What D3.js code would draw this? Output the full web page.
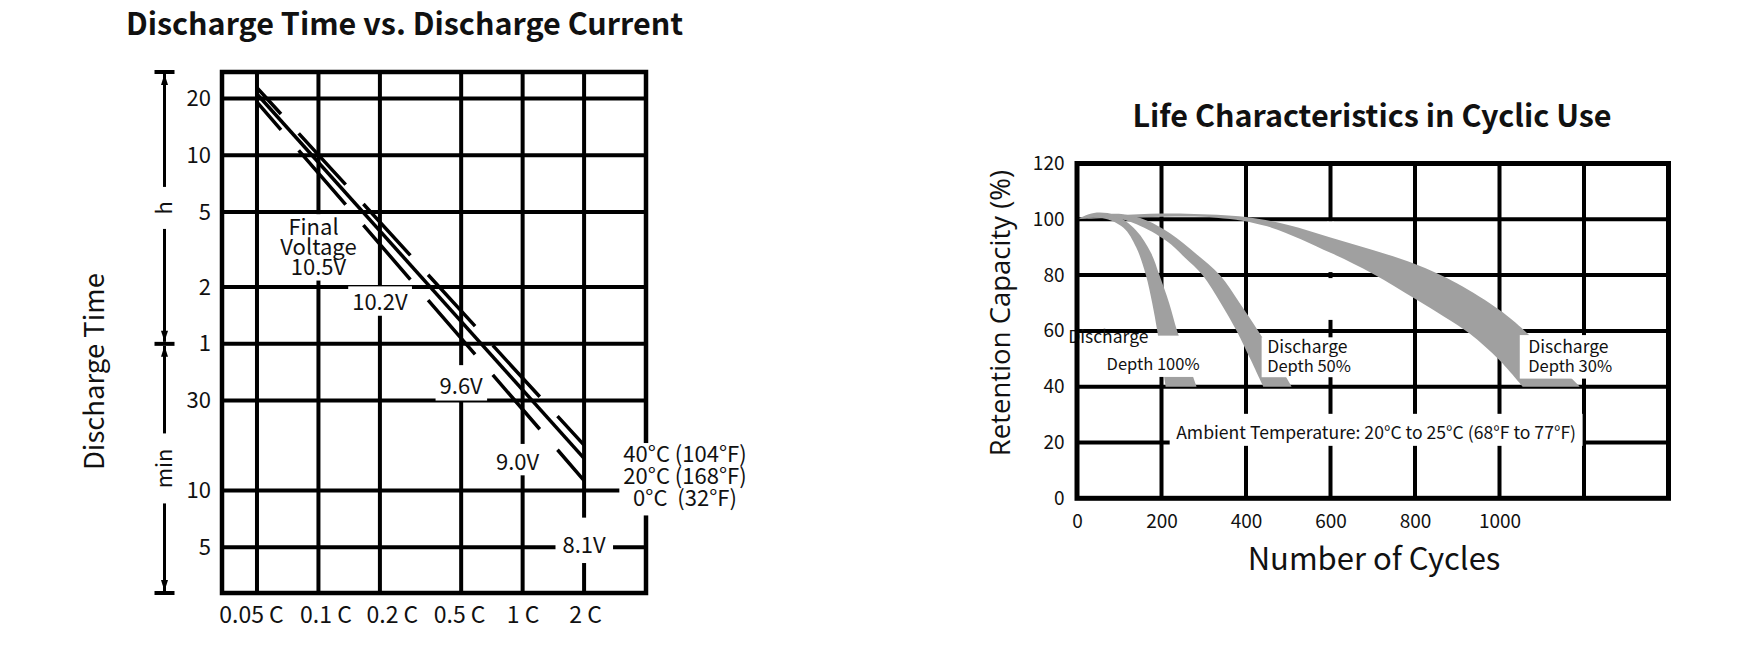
<!DOCTYPE html>
<html lang="en">

<head>
    <meta charset="utf-8">
    <script src='https://d3js.org/d3.v7.min.js'></script>
    <style>
        body { margin: 0; background: #fff; }
        text { font-family: 'Noto Sans CJK SC', 'Source Sans Pro', sans-serif; fill: #111; }
    </style>
</head>

<body>

    <script>
        // ---- discharge time vs discharge current ----
        var currents = [0.05, 0.1, 0.2, 0.5, 1, 2];
        var currentLabels = ['0.05 C', '0.1 C', '0.2 C', '0.5 C', '1 C', '2 C'];
        var timeTicks = [1200, 600, 300, 120, 60, 30, 10, 5];          // minutes
        var timeLabels = ['20', '10', '5', '2', '1', '30', '10', '5'];
        var tempLabels = ['40°C (104°F)', '20°C (168°F)', '0°C  (32°F)'];
        var timeAtStart = [1370, 1270, 1150];                           // minutes at 0.05 C
        var timeAtEnd = [17.4, 14.8, 11.3];                             // minutes at 2 C
        var voltLabels = [['Final\u00a0\u00a0', 'Voltage', '10.5V'], ['10.2V'], ['9.6V'], ['9.0V'], ['8.1V']];
        var voltCurrents = [0.1, 0.2, 0.5, 1, 2];
        var voltTimes = [228, 91, 32.7, 12.8, 4.66];

        // ---- life characteristics in cyclic use ----
        var cycleTicks = [0, 200, 400, 600, 800, 1000];
        var cycleGrid = [200, 400, 600, 800, 1000, 1200];
        var capacityTicks = [0, 20, 40, 60, 80, 100, 120];
        var depthNames = ['Depth 100%', 'Depth 50%', 'Depth 30%'];
        var depth100Outer = [[0, 100], [40, 102.3], [90, 101.5], [140, 96], [175, 88], [195, 80], [218, 70], [237, 60], [260, 50], [283, 40]];
        var depth100Inner = [[0, 100], [60, 100.5], [110, 97], [140, 90], [163, 80], [178, 70], [190, 60], [200, 50], [210, 40]];
        var depth50Outer = [[0, 100], [50, 101.6], [110, 101.8], [165, 99.6], [220, 95], [283, 87.5], [338, 80], [385, 70], [429, 60], [470, 50], [508, 40]];
        var depth50Inner = [[0, 100], [80, 100.8], [141, 98.2], [212, 92.2], [255, 86.3], [297, 80], [340, 70], [378, 60], [410, 50], [441, 40]];
        var depth30Outer = [[0, 100], [120, 101.6], [260, 102], [400, 100.8], [500, 98], [600, 93.5], [700, 89], [800, 84], [900, 77], [1000, 67.5], [1060, 60], [1125, 50], [1190, 40]];
        var depth30Inner = [[0, 100], [150, 100.7], [330, 100.6], [450, 97.5], [600, 88], [700, 80.5], [800, 71.5], [870, 65], [930, 59], [1000, 49.5], [1055, 40]];

        var svg = d3.select('body').append('svg').attr('width', 1752).attr('height', 658);

        // text block with a white patch behind it; y is the first baseline
        function boxed(g, lines, x, y, size, lead, pad, anchor) {
            var t = g.append('text').attr('text-anchor', anchor || 'middle').style('font-size', size + 'px');
            lines.forEach(function(s, i) {
                t.append('tspan').attr('x', x).attr('y', y + i * lead).text(s);
            });
            var b = t.node().getBBox();
            var top = y - 0.7 * size, bottom = y + (lines.length - 1) * lead;
            g.insert('rect', function() { return t.node(); })
                .attr('x', b.x - pad[0]).attr('y', top - pad[1])
                .attr('width', b.width + 2 * pad[0]).attr('height', bottom - top + pad[1] + pad[2])
                .attr('fill', '#fff');
            return t;
        }

        // ================= left chart =================
        var xL = d3.scaleLog().domain([0.0337, 4.02]).range([222, 646]);
        var yL = d3.scaleLog().domain([2.86, 1661]).range([593, 72]);
        var gL = svg.append('g');

        gL.append('g').selectAll('line').data(currents).join('line')
            .attr('x1', function(d) { return xL(d) }).attr('x2', function(d) { return xL(d) })
            .attr('y1', yL.range()[1]).attr('y2', yL.range()[0])
            .attr('stroke', '#000').attr('stroke-width', 4);
        gL.append('g').selectAll('line').data(timeTicks).join('line')
            .attr('x1', xL.range()[0]).attr('x2', xL.range()[1])
            .attr('y1', function(d) { return yL(d) }).attr('y2', function(d) { return yL(d) })
            .attr('stroke', '#000').attr('stroke-width', 4);
        gL.append('rect')
            .attr('x', xL.range()[0]).attr('y', yL.range()[1])
            .attr('width', xL.range()[1] - xL.range()[0]).attr('height', yL.range()[0] - yL.range()[1])
            .attr('fill', 'none').attr('stroke', '#000').attr('stroke-width', 4.5);

        // discharge lines: 40°C dashed, 20°C solid, 0°C dashed
        var tline = d3.line().x(function(d) { return xL(d[0]) }).y(function(d) { return yL(d[1]) });
        tempLabels.forEach(function(t, i) {
            var pts = [[currents[0], timeAtStart[i]], [currents[currents.length - 1], timeAtEnd[i]]];
            var p = gL.append('path').attr('d', tline(pts))
                .attr('fill', 'none').attr('stroke', '#000').attr('stroke-width', 3.5);
            if (i !== 1) {
                var dx = xL(pts[1][0]) - xL(pts[0][0]), dy = yL(pts[1][1]) - yL(pts[0][1]);
                var f = Math.sqrt(dx * dx + dy * dy) / dx;
                p.attr('stroke-dasharray', (47 * f) + ' ' + (17.7 * f)).attr('stroke-dashoffset', 23 * f);
            }
        });

        // final voltage labels
        var voltPads = [[3, 5, 6], [4, 8, 6], [4, 13, 7], [4, 11, 5], [7, 20, 10]];
        voltLabels.forEach(function(lines, i) {
            boxed(gL, lines, xL(voltCurrents[i]) - (i === 3 ? 5 : 0), yL(voltTimes[i]), 22, 20, voltPads[i])
                .style('white-space', 'pre');
        });

        // temperature legend
        boxed(gL, tempLabels, xL.range()[1] + 39, yL(timeAtEnd[1]) + 4, 22, 22, [4, 4, 9])
            .style('white-space', 'pre');

        // axes
        var nudge = [-6, 7, 12, -2, 0, 1];
        var axXL = gL.append('g').attr('transform', 'translate(0,' + yL.range()[0] + ')')
            .call(d3.axisBottom(xL).tickValues(currents).tickSize(0).tickPadding(14)
                .tickFormat(function(d, i) { return currentLabels[i] }));
        axXL.selectAll('.tick text').attr('dx', function(d, i) { return nudge[i] });
        var axYL = gL.append('g').attr('transform', 'translate(' + xL.range()[0] + ',0)')
            .call(d3.axisLeft(yL).tickValues(timeTicks).tickSize(0).tickPadding(11)
                .tickFormat(function(d, i) { return timeLabels[i] }));
        [axXL, axYL].forEach(function(a) {
            a.attr('font-family', null).attr('font-size', 22);
            a.select('.domain').remove();
        });
        axXL.attr('font-size', 23);

        // h / min brackets
        var bx = 164.5;
        var yTop = yL.range()[1], yMid = yL(60), yBot = yL.range()[0];
        [yTop, yMid, yBot].forEach(function(y) {
            gL.append('line').attr('x1', bx - 10).attr('x2', bx + 10).attr('y1', y).attr('y2', y)
                .attr('stroke', '#000').attr('stroke-width', 4);
        });
        function arrow(y, dir) {
            gL.append('path')
                .attr('d', 'M' + bx + ',' + y + 'L' + (bx - 3.5) + ',' + (y + dir * 11) + 'L' + (bx + 3.5) + ',' + (y + dir * 11) + 'Z')
                .attr('fill', '#000');
        }
        function bracket(y0, y1, label, gap) {
            var ym = (y0 + y1) / 2;
            [[y0 + 2, ym - gap], [ym + gap, y1 - 2]].forEach(function(s) {
                gL.append('line').attr('x1', bx).attr('x2', bx).attr('y1', s[0]).attr('y2', s[1])
                    .attr('stroke', '#000').attr('stroke-width', 3);
            });
            arrow(y0 + 2, 1);
            arrow(y1 - 2, -1);
            gL.append('text').attr('transform', 'translate(' + (bx + 7) + ',' + ym + ') rotate(-90)')
                .attr('text-anchor', 'middle').style('font-size', '22px').text(label);
        }
        bracket(yTop, yMid, 'h', 21);
        bracket(yMid, yBot, 'min', 35);

        gL.append('text').attr('transform', 'translate(104,371.5) rotate(-90)')
            .attr('text-anchor', 'middle').style('font-size', '27.5px').text('Discharge Time');
        svg.append('text').attr('x', 404.5).attr('y', 34.5).attr('text-anchor', 'middle')
            .style('font-size', '30.5px').style('font-weight', 700).text('Discharge Time vs. Discharge Current');

        // ================= right chart =================
        var xR = d3.scaleLinear().domain([0, 1400]).range([1077, 1668.5]);
        var yR = d3.scaleLinear().domain([0, 120]).range([498.3, 163.5]);
        var gR = svg.append('g');

        gR.append('g').selectAll('line').data(cycleGrid).join('line')
            .attr('x1', function(d) { return xR(d) }).attr('x2', function(d) { return xR(d) })
            .attr('y1', yR.range()[1]).attr('y2', yR.range()[0])
            .attr('stroke', '#000').attr('stroke-width', 4);
        gR.append('g').selectAll('line').data(capacityTicks.slice(1, -1)).join('line')
            .attr('x1', xR.range()[0]).attr('x2', xR.range()[1])
            .attr('y1', function(d) { return yR(d) }).attr('y2', function(d) { return yR(d) })
            .attr('stroke', '#000').attr('stroke-width', 4);

        // the 600-cycle line is broken off between the 100 and 60 lines
        [[100, 80, 2, 3], [80, 60, 3, 11]].forEach(function(s) {
            gR.append('rect').attr('x', xR(600) - 3).attr('width', 6)
                .attr('y', yR(s[0]) + s[2]).attr('height', yR(s[1]) - yR(s[0]) - s[2] - s[3])
                .attr('fill', '#fff');
        });

        // capacity bands
        var cline = d3.line().x(function(d) { return xR(d[0]) }).y(function(d) { return yR(d[1]) })
            .curve(d3.curveCatmullRom.alpha(0.5));
        [[depth100Outer, depth100Inner], [depth50Outer, depth50Inner], [depth30Outer, depth30Inner]].forEach(function(b) {
            var d = cline(b[0]) + 'L' + cline(b[1].slice().reverse()).slice(1) + 'Z';
            gR.append('path').attr('d', d).attr('fill', '#a0a0a0');
        });

        // label patches and labels
        var notes = [
            { box: [-12, 290, 58.3, 43.5], first: [-21, 55.6], second: [70, 46] },
            { box: [437, 651, 57.7, 43.4], first: [450, 52.1], second: [450, 45.3] },
            { box: [1048, 1266, 58.5, 42.9], first: [1068, 52.1], second: [1068, 45.3] }
        ];
        notes.forEach(function(n) {
            gR.append('rect').attr('x', xR(n.box[0])).attr('width', xR(n.box[1]) - xR(n.box[0]))
                .attr('y', yR(n.box[2])).attr('height', yR(n.box[3]) - yR(n.box[2]))
                .attr('fill', '#fff');
        });
        notes.forEach(function(n, i) {
            gR.append('text').attr('x', xR(n.first[0])).attr('y', yR(n.first[1]))
                .style('font-size', '17.5px').text('Discharge');
            gR.append('text').attr('x', xR(n.second[0])).attr('y', yR(n.second[1]))
                .style('font-size', '16.5px').text(depthNames[i]);
        });

        boxed(gR, ['Ambient Temperature: 20°C to 25°C (68°F to 77°F)'], xR(708), yR(21.2), 17.6, 0, [6.5, 13, 6.7]);

        gR.append('rect')
            .attr('x', xR.range()[0]).attr('y', yR.range()[1])
            .attr('width', xR.range()[1] - xR.range()[0]).attr('height', yR.range()[0] - yR.range()[1])
            .attr('fill', 'none').attr('stroke', '#000').attr('stroke-width', 5);

        var axXR = gR.append('g').attr('transform', 'translate(0,' + yR.range()[0] + ')')
            .call(d3.axisBottom(xR).tickValues(cycleTicks).tickSize(0).tickPadding(16.5).tickFormat(d3.format('d')));
        var axYR = gR.append('g').attr('transform', 'translate(' + xR.range()[0] + ',0)')
            .call(d3.axisLeft(yR).tickValues(capacityTicks).tickSize(0).tickPadding(12.5).tickFormat(d3.format('d')));
        [axXR, axYR].forEach(function(a) {
            a.attr('font-family', null).attr('font-size', 19);
            a.select('.domain').remove();
        });

        gR.append('text').attr('x', 1374).attr('y', 570).attr('text-anchor', 'middle')
            .style('font-size', '31px').text('Number of Cycles');
        gR.append('text').attr('transform', 'translate(1010,313) rotate(-90)').attr('text-anchor', 'middle')
            .style('font-family', "'Open Sans', sans-serif")
            .style('font-size', '27.5px').text('Retention Capacity (%)');
        svg.append('text').attr('x', 1372).attr('y', 127).attr('text-anchor', 'middle')
            .style('font-size', '30.5px').style('font-weight', 700).text('Life Characteristics in Cyclic Use');
    </script>

</body>

</html>
